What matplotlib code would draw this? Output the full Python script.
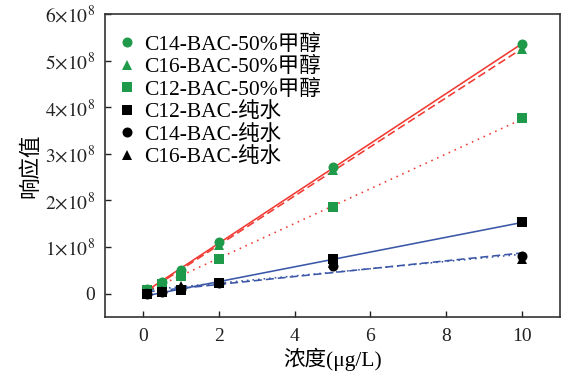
import numpy as np
import matplotlib
matplotlib.use("Agg")
import matplotlib.pyplot as plt
from matplotlib.ticker import FuncFormatter, MultipleLocator

plt.rcParams['font.family'] = ['Liberation Serif', 'Noto Sans CJK SC']
plt.rcParams['mathtext.fontset'] = 'stix'

# concentration (ug/L)
conc = [0.1, 0.5, 1, 2, 5, 10]
# responses (units of 1e8)
c14_meoh = [0.09, 0.26, 0.50, 1.10, 2.72, 5.35]
c16_meoh = [0.08, 0.24, 0.46, 1.05, 2.65, 5.25]
c12_meoh = [0.07, 0.20, 0.39, 0.75, 1.85, 3.76]
c12_water = [0.00, 0.03, 0.07, 0.22, 0.75, 1.53]
c14_water = [0.00, 0.03, 0.10, 0.22, 0.60, 0.80]
c16_water = [0.01, 0.05, 0.17, 0.24, 0.65, 0.75]

labels = ["C14-BAC-50%甲醇", "C16-BAC-50%甲醇", "C12-BAC-50%甲醇",
          "C12-BAC-纯水", "C14-BAC-纯水", "C16-BAC-纯水"]
yticks = [0, 1, 2, 3, 4, 5, 6]

GREEN = '#1f9a4a'
RED = '#f03a32'
BLUE = '#3b57a8'

series = [
    (c14_meoh, 'o', GREEN, RED, '-'),
    (c16_meoh, '^', GREEN, RED, (0, (5, 2.5))),
    (c12_meoh, 's', GREEN, RED, (0, (1, 3))),
    (c12_water, 's', 'black', BLUE, '-'),
    (c14_water, 'o', 'black', BLUE, (0, (5, 2.5))),
    (c16_water, '^', 'black', BLUE, (0, (1, 2.5))),
]

fig = plt.figure(figsize=(5.68, 3.72), dpi=100)
ax = fig.add_axes([105/568, 55/372, 455/568, 303/372])

x = np.array(conc)
xf = np.array([min(conc), max(conc)])
handles = []
for vals, mk, mc, lc, ls in series:
    y = np.array(vals) * 1e8
    k, b = np.polyfit(x, y, 1)
    ax.plot(xf, k * xf + b, color=lc, ls=ls, lw=1.15, zorder=2)
for (vals, mk, mc, lc, ls), lab in zip(series, labels):
    y = np.array(vals) * 1e8
    h, = ax.plot(x, y, ls='none', marker=mk, color=mc, ms=7.2 if mk != 's' else 6.5,
                 markeredgewidth=0, zorder=3, label=lab)
    handles.append(h)

ax.set_xlim(-1, 11)
ax.set_ylim(-0.5e8, 6e8)
ax.xaxis.set_major_locator(MultipleLocator(2))
ax.set_yticks([v * 1e8 for v in yticks])

def yfmt(v, pos):
    n = int(round(v / 1e8))
    if n == 0:
        return '0'
    return r'$%d{\times}10^{8}$' % n

ax.yaxis.set_major_formatter(FuncFormatter(yfmt))
ax.tick_params(direction='in', length=4.5, width=1, labelsize=14, colors='#222222',
               top=False, right=False)
ax.tick_params(axis='x', pad=8)
ax.tick_params(axis='y', pad=7)
for sp in ax.spines.values():
    sp.set_linewidth(1.2)
    sp.set_color('#333333')

ax.set_xlabel('浓度(μg/L)', fontsize=15.5, labelpad=2)
ax.set_ylabel('响应值', fontsize=15.5, labelpad=3)

leg = ax.legend(handles=handles, loc='upper left', bbox_to_anchor=(0.035, 0.932),
                frameon=False, fontsize=15.5, handlelength=0.6, handletextpad=0.5,
                labelspacing=0.11, borderaxespad=0, borderpad=0)

fig.savefig('out.png', dpi=100)
